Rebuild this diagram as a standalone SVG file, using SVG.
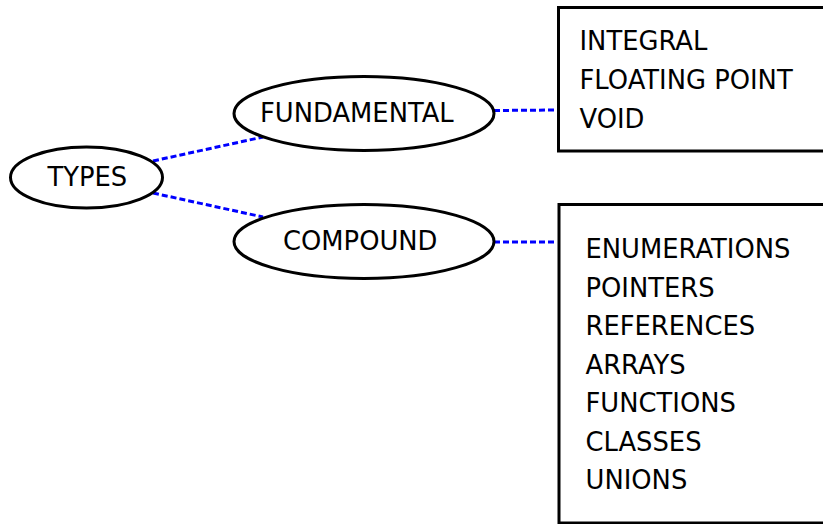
<svg xmlns="http://www.w3.org/2000/svg" width="823" height="524" viewBox="0 0 823 524">
  <style>
    .node { fill: #ffffff; stroke: #000000; stroke-width: 3; }
    .label { font-family: "DejaVu Sans", "Liberation Sans", sans-serif; font-size: 25.8px; fill: #000000; }
    .link { stroke: #0000ff; stroke-width: 3; stroke-dasharray: 6 3; fill: none; }
  </style>
  <rect width="823" height="524" fill="#ffffff"/>

  <!-- dashed links between categories -->
  <g id="connectors">
    <line class="link" x1="153" y1="161" x2="263" y2="137"/>
    <line class="link" x1="153" y1="193" x2="263" y2="217"/>
    <line class="link" x1="494" y1="110.5" x2="557" y2="110"/>
    <line class="link" x1="494" y1="242" x2="557" y2="242"/>
  </g>

  <g id="types">
    <ellipse class="node" cx="86.5" cy="177.5" rx="76" ry="30.5"/>
    <text class="label" x="47.5" y="186">TYPES</text>
  </g>

  <g id="fundamental">
    <ellipse class="node" cx="364" cy="113.5" rx="130" ry="37"/>
    <text class="label" x="260" y="122">FUNDAMENTAL</text>
  </g>

  <g id="compound">
    <ellipse class="node" cx="364" cy="241.5" rx="130" ry="37"/>
    <text class="label" x="283" y="250">COMPOUND</text>
  </g>

  <g id="fundamental-list">
    <rect class="node" x="558.5" y="7.5" width="300" height="143.5"/>
    <text class="label" x="579.5" y="50">INTEGRAL</text>
    <text class="label" x="579.5" y="89">FLOATING POINT</text>
    <text class="label" x="579.5" y="128">VOID</text>
  </g>

  <g id="compound-list">
    <rect class="node" x="559" y="204.5" width="300" height="318.5" stroke-width="4.5"/>
    <text class="label" x="585.5" y="258">ENUMERATIONS</text>
    <text class="label" x="585.5" y="296.5">POINTERS</text>
    <text class="label" x="585.5" y="335">REFERENCES</text>
    <text class="label" x="585.5" y="373.5">ARRAYS</text>
    <text class="label" x="585.5" y="412">FUNCTIONS</text>
    <text class="label" x="585.5" y="450.5">CLASSES</text>
    <text class="label" x="585.5" y="489">UNIONS</text>
  </g>
</svg>
